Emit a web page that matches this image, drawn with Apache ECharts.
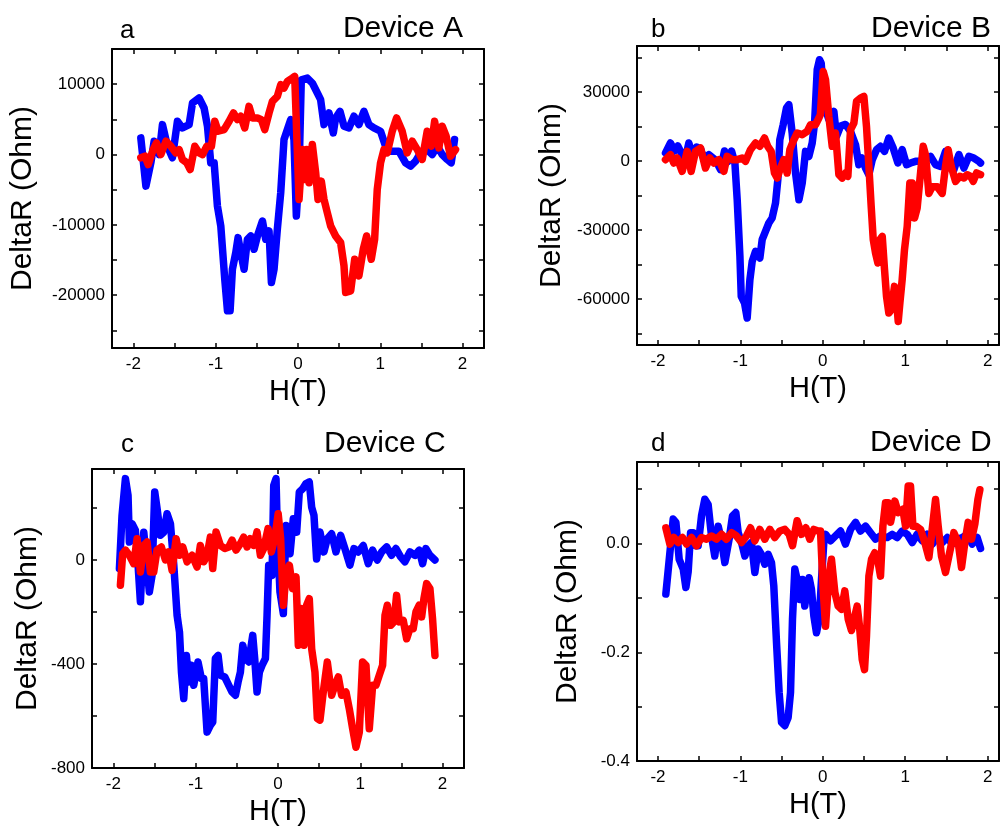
<!DOCTYPE html>
<html>
<head>
<meta charset="utf-8">
<script src="https://cdn.jsdelivr.net/npm/echarts@6/dist/echarts.min.js"></script>
<style>
html,body{margin:0;padding:0;background:#fff;}
#chart{width:1000px;height:827px;}
</style>
</head>
<body>
<div id="chart"></div>
<script>
// ---------- data (H in T, DeltaR in Ohm) ----------
const hTicks = [-2, -1.5, -1, -0.5, 0, 0.5, 1, 1.5, 2];
const hLabels = [-2, -1, 0, 1, 2];

const aTicks = [-25000, -20000, -15000, -10000, -5000, 0, 5000, 10000];
const aLabels = [-20000, -10000, 0, 10000];
const bTicks = [-75000, -60000, -45000, -30000, -15000, 0, 15000, 30000, 45000];
const bLabels = [-60000, -30000, 0, 30000];
const cTicks = [-800, -600, -400, -200, 0, 200];
const cLabels = [-800, -400, 0];
const dTicks = [-0.4, -0.3, -0.2, -0.1, 0, 0.1];
const dLabels = [-0.4, -0.2, 0];

const aBlue = [[-1.91,2370],[-1.848,-4490],[-1.788,-1180],[-1.748,1890],[-1.687,0],[-1.647,4250],[-1.586,1180],[-1.526,-470],[-1.465,4730],[-1.404,3780],[-1.323,4250],[-1.282,7330],[-1.202,8040],[-1.141,6620],[-1.1,4020],[-1.06,-1180],[-1.019,-1180],[-0.979,-7330],[-0.938,-10160],[-0.89,-17730],[-0.857,-22220],[-0.825,-22220],[-0.797,-16310],[-0.756,-13940],[-0.728,-11810],[-0.696,-13940],[-0.655,-16310],[-0.615,-12050],[-0.574,-11580],[-0.534,-13470],[-0.493,-11580],[-0.432,-9450],[-0.392,-12050],[-0.352,-10870],[-0.323,-18200],[-0.291,-16310],[-0.251,-10630],[-0.21,-5430],[-0.17,2130],[-0.13,3545],[-0.089,4960],[-0.049,2130],[-0.02,-8750],[0.0125,-2600],[0.04,10630],[0.113,10870],[0.174,10160],[0.235,8750],[0.275,7800],[0.316,4250],[0.377,5910],[0.429,3070],[0.457,5200],[0.51,6140],[0.559,4020],[0.619,3780],[0.68,5440],[0.74,4250],[0.801,6140],[0.862,4250],[0.922,3780],[1.003,3310],[1.064,1180],[1.125,470],[1.226,470],[1.307,-1180],[1.368,-1650],[1.429,-940],[1.489,235],[1.57,710],[1.631,0],[1.692,1180],[1.752,0],[1.813,-700],[1.862,-1180],[1.902,2130]];
const aRed = [[-1.91,-470],[-1.86,-235],[-1.82,-1420],[-1.76,700],[-1.72,1650],[-1.666,0],[-1.605,1890],[-1.545,1180],[-1.484,235],[-1.444,700],[-1.404,-700],[-1.351,-1180],[-1.31,-2130],[-1.254,1180],[-1.202,235],[-1.16,0],[-1.108,1180],[-1.052,1180],[-1.011,4730],[-0.971,3310],[-0.898,3545],[-0.837,4730],[-0.784,5910],[-0.736,4960],[-0.696,5440],[-0.647,3780],[-0.595,6850],[-0.554,5200],[-0.493,5200],[-0.445,4960],[-0.404,3545],[-0.352,5910],[-0.311,7560],[-0.251,8270],[-0.21,9930],[-0.17,9450],[-0.129,10400],[-0.069,10870],[-0.04,11110],[0.0125,-6380],[0.053,700],[0.081,-3545],[0.105,700],[0.134,-4020],[0.174,1420],[0.215,-2600],[0.243,-6380],[0.283,-3780],[0.316,-6380],[0.356,-8270],[0.397,-10160],[0.457,-11580],[0.518,-12520],[0.559,-15830],[0.579,-19610],[0.64,-19380],[0.689,-14890],[0.74,-17250],[0.793,-13470],[0.834,-11580],[0.89,-14890],[0.931,-12050],[0.963,-4960],[1.003,-1180],[1.044,700],[1.084,235],[1.145,3310],[1.198,5200],[1.266,3310],[1.327,235],[1.388,1890],[1.449,700],[1.51,-700],[1.57,3310],[1.619,1180],[1.66,4730],[1.712,940],[1.752,4020],[1.8,2600],[1.853,-235],[1.914,700]];

const bBlue = [[-1.909,3480],[-1.849,7830],[-1.8,4350],[-1.76,6520],[-1.707,2740],[-1.679,-870],[-1.626,7830],[-1.585,2740],[-1.533,6090],[-1.484,5360],[-1.444,1010],[-1.383,2740],[-1.323,1010],[-1.282,-870],[-1.242,-3780],[-1.193,4350],[-1.152,-290],[-1.108,4350],[-1.067,-870],[-1.039,-16830],[-1.006,-41480],[-0.99,-58870],[-0.95,-61770],[-0.918,-68260],[-0.885,-51610],[-0.857,-43650],[-0.817,-39300],[-0.764,-42200],[-0.736,-34220],[-0.696,-30590],[-0.655,-26960],[-0.615,-24780],[-0.574,-18260],[-0.546,-8130],[-0.522,9260],[-0.481,15780],[-0.441,23040],[-0.412,24490],[-0.372,12170],[-0.331,-5220],[-0.29,-16830],[-0.25,-9570],[-0.21,4190],[-0.169,2030],[-0.129,7830],[-0.1,16520],[-0.068,39700],[-0.04,44040],[-0.02,42590],[0.021,23740],[0.073,17960],[0.134,21570],[0.166,10700],[0.215,15200],[0.275,15900],[0.336,12940],[0.397,7090],[0.437,-1600],[0.478,1300],[0.518,-3050],[0.559,-5960],[0.6,580],[0.652,4930],[0.7,6380],[0.749,4200],[0.801,10000],[0.854,5650],[0.911,-870],[0.963,4930],[1.016,-1600],[1.064,-870],[1.125,-145],[1.186,-145],[1.246,580],[1.307,2030],[1.368,-1600],[1.428,-2330],[1.489,4200],[1.542,-1600],[1.59,-3780],[1.651,2760],[1.712,-3050],[1.773,2030],[1.833,1300],[1.894,-145],[1.914,-870]];
const bRed = [[-1.909,580],[-1.849,2740],[-1.808,-870],[-1.768,1300],[-1.707,-4500],[-1.646,4200],[-1.598,-4500],[-1.545,4200],[-1.484,5650],[-1.424,-3050],[-1.371,1300],[-1.323,-870],[-1.262,580],[-1.201,-4500],[-1.161,2030],[-1.1,580],[-1.039,580],[-0.979,1300],[-0.938,-145],[-0.878,4930],[-0.817,7830],[-0.764,6380],[-0.708,10000],[-0.668,6380],[-0.627,4200],[-0.587,-5220],[-0.554,-7390],[-0.514,-3050],[-0.473,580],[-0.433,-5220],[-0.4,4930],[-0.36,8560],[-0.311,12170],[-0.25,11450],[-0.19,12900],[-0.149,15780],[-0.089,15780],[-0.048,18680],[-0.03,20140],[0.004,38960],[0.033,35330],[0.073,19410],[0.114,6380],[0.154,12170],[0.195,-5960],[0.235,-7390],[0.275,-5220],[0.304,-6670],[0.336,13600],[0.377,16520],[0.409,25910],[0.457,27360],[0.498,28100],[0.53,15060],[0.559,-2330],[0.587,-19730],[0.612,-34220],[0.64,-40020],[0.668,-44360],[0.692,-34220],[0.721,-32770],[0.749,-47260],[0.773,-58870],[0.801,-66110],[0.83,-64660],[0.87,-54520],[0.894,-60320],[0.915,-69740],[0.935,-61770],[0.963,-51610],[0.991,-38570],[1.024,-28430],[1.056,-9570],[1.085,-9570],[1.113,-24780],[1.145,-20430],[1.178,-8130],[1.218,6380],[1.246,2740],[1.287,-14090],[1.327,-11190],[1.388,-11190],[1.449,-14090],[1.489,-2330],[1.521,4930],[1.558,-2330],[1.611,-8860],[1.663,-6670],[1.712,-7390],[1.752,-5960],[1.793,-6670],[1.825,-8860],[1.866,-5220],[1.914,-5960]];

const cBlue = [[-1.927,-33],[-1.895,172],[-1.854,313],[-1.822,249],[-1.806,69],[-1.773,140],[-1.733,115],[-1.7,-20],[-1.672,-161],[-1.631,107],[-1.603,13],[-1.563,-123],[-1.53,-59],[-1.498,262],[-1.47,200],[-1.429,95],[-1.388,107],[-1.348,178],[-1.307,140],[-1.266,-20],[-1.226,-213],[-1.197,-277],[-1.173,-431],[-1.145,-533],[-1.113,-367],[-1.084,-469],[-1.052,-405],[-1.024,-482],[-0.972,-392],[-0.931,-456],[-0.903,-456],[-0.862,-662],[-0.822,-636],[-0.793,-623],[-0.761,-379],[-0.728,-367],[-0.7,-443],[-0.647,-450],[-0.598,-482],[-0.558,-508],[-0.517,-520],[-0.485,-469],[-0.457,-431],[-0.428,-328],[-0.396,-379],[-0.355,-392],[-0.307,-290],[-0.283,-379],[-0.255,-508],[-0.226,-431],[-0.194,-405],[-0.153,-379],[-0.133,-213],[-0.113,-20],[-0.072,-59],[-0.052,287],[-0.024,313],[-0.008,108],[0.024,-123],[0.065,-206],[0.097,133],[0.146,24],[0.186,159],[0.227,107],[0.259,262],[0.3,274],[0.34,294],[0.38,300],[0.409,203],[0.437,172],[0.469,4],[0.51,108],[0.558,31],[0.599,82],[0.652,101],[0.704,31],[0.761,95],[0.813,44],[0.874,-20],[0.923,44],[0.975,31],[1.036,56],[1.097,-14],[1.149,38],[1.206,0],[1.259,31],[1.32,50],[1.38,18],[1.433,44],[1.49,12],[1.542,-7],[1.603,31],[1.664,18],[1.716,38],[1.757,-14],[1.797,44],[1.846,18],[1.907,0]];
const cRed = [[-1.915,-97],[-1.887,24],[-1.854,38],[-1.806,18],[-1.753,-14],[-1.712,82],[-1.672,-46],[-1.631,56],[-1.591,69],[-1.55,-46],[-1.51,-46],[-1.47,38],[-1.417,50],[-1.368,0],[-1.328,31],[-1.287,-40],[-1.238,82],[-1.197,18],[-1.157,50],[-1.104,-7],[-1.044,18],[-0.983,-27],[-0.943,56],[-0.902,-7],[-0.862,18],[-0.822,88],[-0.793,-33],[-0.753,108],[-0.7,56],[-0.647,44],[-0.598,50],[-0.558,76],[-0.51,38],[-0.457,63],[-0.417,88],[-0.376,50],[-0.336,82],[-0.295,56],[-0.255,108],[-0.214,18],[-0.174,44],[-0.121,121],[-0.081,31],[-0.04,82],[0.002,178],[0.032,82],[0.065,-174],[0.097,-59],[0.138,-20],[0.178,-110],[0.219,-65],[0.247,-328],[0.288,-187],[0.316,-328],[0.348,-174],[0.38,-149],[0.409,-341],[0.449,-431],[0.478,-610],[0.51,-616],[0.55,-508],[0.599,-392],[0.652,-520],[0.692,-482],[0.733,-450],[0.773,-520],[0.826,-508],[0.866,-572],[0.907,-649],[0.947,-720],[0.988,-662],[1.028,-392],[1.069,-405],[1.109,-649],[1.15,-482],[1.19,-482],[1.231,-443],[1.271,-405],[1.3,-213],[1.328,-174],[1.369,-251],[1.409,-238],[1.441,-136],[1.474,-238],[1.522,-232],[1.563,-303],[1.603,-264],[1.643,-264],[1.676,-200],[1.716,-174],[1.745,-219],[1.773,-149],[1.806,-91],[1.846,-110],[1.878,-226],[1.907,-367]];

const dBlue = [[-1.905,-0.093],[-1.856,-0.017],[-1.816,0.045],[-1.783,0.039],[-1.743,-0.029],[-1.694,-0.047],[-1.662,-0.081],[-1.634,-0.052],[-1.605,0.02],[-1.573,0.02],[-1.541,-0.004],[-1.513,-0.004],[-1.472,0.051],[-1.432,0.0815],[-1.392,0.072],[-1.351,0.014],[-1.311,-0.023],[-1.27,0.032],[-1.23,0.005],[-1.189,-0.035],[-1.137,0.008],[-1.096,0.051],[-1.056,0.057],[-1.027,0.02],[-0.987,0.002],[-0.946,-0.023],[-0.906,-0.004],[-0.866,0.002],[-0.825,-0.053],[-0.785,-0.01],[-0.744,-0.02],[-0.704,-0.038],[-0.663,-0.02],[-0.623,-0.035],[-0.595,-0.078],[-0.562,-0.182],[-0.53,-0.274],[-0.501,-0.329],[-0.461,-0.335],[-0.421,-0.32],[-0.392,-0.274],[-0.368,-0.139],[-0.34,-0.047],[-0.312,-0.066],[-0.279,-0.103],[-0.247,-0.066],[-0.219,-0.115],[-0.198,-0.09],[-0.166,-0.063],[-0.138,-0.084],[-0.109,-0.133],[-0.077,-0.164],[-0.044,-0.139],[-0.016,-0.066],[0.012,0.002],[0.033,0.017],[0.093,0.005],[0.154,0.014],[0.215,0.023],[0.275,-0.001],[0.336,0.026],[0.397,0.039],[0.457,0.023],[0.518,0.032],[0.579,0.02],[0.64,0.008],[0.7,0.014],[0.781,0.011],[0.842,0.017],[0.903,0.011],[0.963,0.023],[1.024,0.017],[1.085,0.002],[1.145,0.017],[1.206,0.005],[1.266,0.017],[1.327,-0.001],[1.388,0.011],[1.449,0.002],[1.51,0.011],[1.57,-0.001],[1.631,0.008],[1.692,0.011],[1.752,0.017],[1.813,-0.001],[1.873,0.011],[1.914,-0.009]];
const dRed = [[-1.905,0.029],[-1.856,-0.001],[-1.808,0.011],[-1.755,0.002],[-1.703,0.011],[-1.654,-0.001],[-1.594,0.011],[-1.533,-0.004],[-1.472,0.011],[-1.412,0.008],[-1.351,0.014],[-1.29,0.008],[-1.23,0.017],[-1.169,0.008],[-1.108,0.02],[-1.048,0.014],[-0.987,0.002],[-0.926,0.014],[-0.878,0.029],[-0.825,0.005],[-0.765,0.026],[-0.704,0.008],[-0.643,0.026],[-0.583,0.011],[-0.522,0.023],[-0.461,0.026],[-0.409,0.017],[-0.368,-0.004],[-0.312,0.042],[-0.259,0.017],[-0.206,0.029],[-0.158,0.008],[-0.109,0.026],[-0.057,0.023],[-0.028,0.023],[0.004,-0.084],[0.033,-0.152],[0.073,-0.06],[0.105,-0.029],[0.146,-0.09],[0.186,-0.115],[0.227,-0.121],[0.267,-0.087],[0.308,-0.139],[0.348,-0.16],[0.389,-0.133],[0.417,-0.115],[0.445,-0.152],[0.478,-0.213],[0.506,-0.232],[0.53,-0.17],[0.559,-0.06],[0.591,-0.029],[0.631,-0.017],[0.672,-0.035],[0.7,-0.06],[0.729,0.032],[0.761,0.075],[0.793,0.075],[0.822,0.039],[0.874,0.078],[0.915,0.057],[0.971,0.063],[1.004,0.032],[1.036,0.106],[1.064,0.106],[1.093,0.032],[1.133,0.032],[1.186,0.026],[1.238,0.002],[1.287,-0.026],[1.327,0.026],[1.368,0.081],[1.4,0.032],[1.44,-0.023],[1.489,-0.053],[1.53,-0.023],[1.59,0.02],[1.643,0.002],[1.683,-0.044],[1.724,0.002],[1.764,0.039],[1.805,0.008],[1.845,0.036],[1.882,0.081],[1.906,0.099]];

const letters = ['a', 'b', 'c', 'd'];
const deviceNames = ['Device A', 'Device B', 'Device C', 'Device D'];
const xName = 'H(T)';
const yName = 'DeltaR (Ohm)';

// ---------- layout ----------
const FONT = "Arial, 'Liberation Sans', sans-serif";
const panels = [
  {grid:{left:112,top:49,width:372,height:299}, xMin:-2.26, xMax:2.26, yMin:-27500, yMax:15000,
   yTicks:aTicks, yLabels:aLabels, fmt:v=>String(v), blue:aBlue, red:aRed, yGap:74,
   letterPos:[120,31], devPos:[463,29,'right']},
  {grid:{left:637,top:46,width:362,height:299}, xMin:-2.255, xMax:2.138, yMin:-80000, yMax:50000,
   yTicks:bTicks, yLabels:bLabels, fmt:v=>String(v), blue:bBlue, red:bRed, yGap:70,
   letterPos:[651,30], devPos:[871,29,'left']},
  {grid:{left:92,top:469,width:372,height:299}, xMin:-2.26, xMax:2.26, yMin:-800, yMax:350,
   yTicks:cTicks, yLabels:cLabels, fmt:v=>String(v), blue:cBlue, red:cRed, yGap:49,
   letterPos:[121,445], devPos:[324,444,'left']},
  {grid:{left:637,top:462,width:362,height:299}, xMin:-2.255, xMax:2.138, yMin:-0.4, yMax:0.15,
   yTicks:dTicks, yLabels:dLabels, fmt:v=>v.toFixed(1), blue:dBlue, red:dRed, yGap:54,
   letterPos:[651,444], devPos:[870,443,'left']}
];

const black = '#000';
const lineSty = {color: black, width: 2};
const tickSty = {color: black, width: 1.5};

const grids = [], xAxes = [], yAxes = [], series = [], graphics = [];
panels.forEach((p, i) => {
  grids.push(Object.assign({containLabel:false, outerBoundsMode:'none'}, p.grid));
  xAxes.push({gridIndex:i, type:'value', position:'bottom', min:p.xMin, max:p.xMax,
    axisLine:{show:true, onZero:false, lineStyle:lineSty},
    axisTick:{show:true, inside:true, length:5, customValues:hTicks, lineStyle:tickSty},
    axisLabel:{show:true, customValues:hLabels, formatter:v=>String(v), color:black, fontSize:17, fontFamily:FONT, margin:8},
    splitLine:{show:false},
    name:xName, nameLocation:'middle', nameGap:29,
    nameTextStyle:{color:black, fontSize:29, fontFamily:FONT}});
  xAxes.push({gridIndex:i, type:'value', position:'top', min:p.xMin, max:p.xMax,
    axisLine:{show:true, onZero:false, lineStyle:lineSty},
    axisTick:{show:true, inside:true, length:5, customValues:hTicks, lineStyle:tickSty},
    axisLabel:{show:false}, splitLine:{show:false}});
  yAxes.push({gridIndex:i, type:'value', position:'left', min:p.yMin, max:p.yMax,
    axisLine:{show:true, onZero:false, lineStyle:lineSty},
    axisTick:{show:true, inside:true, length:5, customValues:p.yTicks, lineStyle:tickSty},
    axisLabel:{show:true, customValues:p.yLabels, formatter:p.fmt, color:black, fontSize:17, fontFamily:FONT, margin:7},
    splitLine:{show:false},
    name:yName, nameLocation:'middle', nameGap:p.yGap, nameRotate:90,
    nameTextStyle:{color:black, fontSize:30, fontFamily:FONT}});
  yAxes.push({gridIndex:i, type:'value', position:'right', min:p.yMin, max:p.yMax,
    axisLine:{show:true, onZero:false, lineStyle:lineSty},
    axisTick:{show:true, inside:true, length:5, customValues:p.yTicks, lineStyle:tickSty},
    axisLabel:{show:false}, splitLine:{show:false}});

  series.push({type:'line', xAxisIndex:2*i, yAxisIndex:2*i, data:p.blue, showSymbol:false,
    lineStyle:{color:'#0000ff', width:7.5, join:'round', cap:'round'}, itemStyle:{color:'#0000ff'},
    animation:false, clip:true, z:2});
  series.push({type:'line', xAxisIndex:2*i, yAxisIndex:2*i, data:p.red, showSymbol:false,
    lineStyle:{color:'#ff0000', width:7.5, join:'round', cap:'round'}, itemStyle:{color:'#ff0000'},
    animation:false, clip:true, z:3});

  graphics.push({type:'text', x:p.letterPos[0], y:p.letterPos[1],
    style:{text:letters[i], font:'26px ' + FONT, fill:black, textAlign:'left', textVerticalAlign:'middle'}});
  graphics.push({type:'text', x:p.devPos[0], y:p.devPos[1],
    style:{text:deviceNames[i], font:'30px ' + FONT, fill:black, textAlign:p.devPos[2], textVerticalAlign:'middle'}});
});

const chart = echarts.init(document.getElementById('chart'), null, {renderer:'canvas'});
chart.setOption({
  backgroundColor:'#ffffff',
  animation:false,
  grid:grids, xAxis:xAxes, yAxis:yAxes, series:series, graphic:graphics
});
</script>
</body>
</html>
